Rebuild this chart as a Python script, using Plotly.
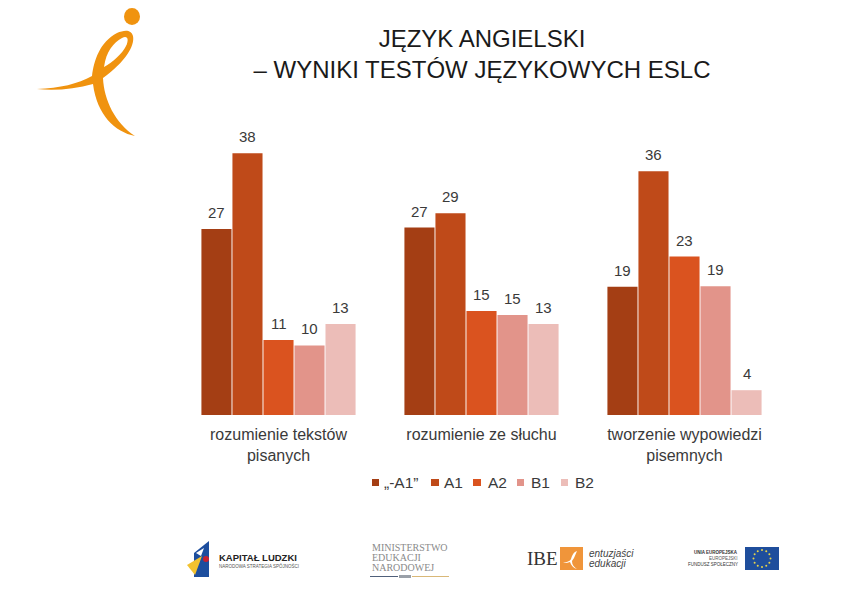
import math
import plotly.graph_objects as go

categories = ["rozumienie tekstów<br>pisanych", "rozumienie ze słuchu", "tworzenie wypowiedzi<br>pisemnych"]
series_names = ["„-A1”", "A1", "A2", "B1", "B2"]
series_colors = ["#A43E14", "#BF4A19", "#DA531F", "#E2948A", "#ECBDB8"]
values_a0 = [27.0, 27.2, 18.6]
values_a1 = [38.0, 29.3, 35.4]
values_a2 = [10.9, 15.1, 23.0]
values_b1 = [10.1, 14.5, 18.7]
values_b2 = [13.2, 13.2, 3.6]
labels_a0 = [27, 27, 19]
labels_a1 = [38, 29, 36]
labels_a2 = [11, 15, 23]
labels_b1 = [10, 15, 19]
labels_b2 = [13, 13, 4]

all_values = [values_a0, values_a1, values_a2, values_b1, values_b2]
all_labels = [labels_a0, labels_a1, labels_a2, labels_b1, labels_b2]

# The page has an 8px body margin, so the figure is drawn 8px in from the corner.
OFF = 8
W, H = 842 - OFF, 595 - OFF
L, R, T, B = 177, 786, 105, 415
FONT = "Liberation Sans"
TXT = "#3a3a3a"


def px(x):
    return (x - L) / (R - L)


def py(y):
    return (B - y) / (B - T)


def path(points):
    """SVG path written in page pixels, converted to paper coordinates."""
    out = []
    for tok in points.split():
        if "," in tok:
            a, b = tok.split(",")
            out.append(f"{px(float(a)):.5f},{py(float(b)):.5f}")
        else:
            out.append(tok)
    return " ".join(out)


shapes = []
annotations = []


def fill(d, color):
    shapes.append(dict(type="path", xref="paper", yref="paper", path=path(d),
                       fillcolor=color, line=dict(width=0), layer="above"))


def ellipse(cx, cy, rx, ry, color):
    shapes.append(dict(type="circle", xref="paper", yref="paper",
                       x0=px(cx - rx), x1=px(cx + rx), y0=py(cy + ry), y1=py(cy - ry),
                       fillcolor=color, line=dict(width=0), layer="above"))


def text(x, y, s, size, color="#333333", family=FONT, anchor="left"):
    annotations.append(dict(xref="paper", yref="paper", x=px(x), y=py(y), text=s,
                            showarrow=False, xanchor=anchor, yanchor="middle",
                            font=dict(size=size, color=color, family=family)))


# top-left emblem
ORANGE = "#F0930F"
ellipse(132, 16.5, 8, 8.5, ORANGE)
fill("M 37,89 C 60,88 78,84 92,76 C 94,60 100,42 117,33 C 124,30 131,29 133,36 "
     "C 135,46 125,62 103,78 C 104,100 115,123 135,136 C 115,132 97,115 93,84 C 75,89 55,91 37,89 Z", ORANGE)
fill("M 104,67 C 106,52 113,43 122,38 C 128,35 129,40 126,46 C 122,54 113,62 104,67 Z", "#FFFFFF")

# legend drawn by hand: the native one cannot be this tight
legend_boxes = [(372, 379), (431, 439), (473, 481), (517, 524), (561, 568)]
legend_text_x = [383, 443, 487, 530, 574]
for (x0, x1), tx, name, color in zip(legend_boxes, legend_text_x, series_names, series_colors):
    fill(f"M {x0},479 L {x1},479 L {x1},486 L {x0},486 Z", color)
    text(tx - 1, 483, name, 15.5, TXT)

# footer: Kapitał Ludzki
fill("M 194,553 L 209,541 L 209,577 L 194,577 Z", "#1D4E9E")
fill("M 187,565 L 202,556 L 195,575 Z", "#F2C230")
ellipse(206, 559, 3, 3, "#C8202F")
fill("M 196,553 L 204,548 L 201,556 Z", "#FFFFFF")
text(217, 557, "<b>KAPITAŁ LUDZKI</b>", 9.5, "#222222")
text(217, 565, "NARODOWA STRATEGIA SPÓJNOŚCI", 4.5, "#555555")

# footer: Ministerstwo
for yy, s in zip([547, 557, 567], ["MINISTERSTWO", "EDUKACJI", "NARODOWEJ"]):
    text(370, yy, s, 10, "#8a8a8a", "Liberation Serif")
fill("M 370,576 L 398,576 L 398,577 L 370,577 Z", "#50607A")
fill("M 412,576 L 449,576 L 449,577 L 412,577 Z", "#D9B878")
fill("M 399,575 L 411,575 L 411,578 L 399,578 Z", "#9AA0A8")

# footer: IBE
text(525, 558, "IBE", 19, "#333333", "Liberation Serif")
fill("M 560,547 L 583,547 L 583,570 L 560,570 Z", "#F0953A")
fill("M 563,563 C 568,562 570,561 571,559 C 572,555 574,552 577,551 L 574,558 L 572,561 "
     "C 572,565 574,567 577,569 C 573,568 571,565 570,562 C 568,563 565,563 563,563 Z", "#FFFFFF")
text(587, 553, "<i>entuzjaści</i>", 10, "#444444")
text(587, 563, "<i>edukacji</i>", 10, "#444444")

# footer: EU
text(740, 552, "<b>UNIA EUROPEJSKA</b>", 4.5, "#333333", anchor="right")
text(740, 558, "EUROPEJSKI", 4.5, "#555555", anchor="right")
text(740, 564, "FUNDUSZ SPOŁECZNY", 4.5, "#333333", anchor="right")
fill("M 745,547 L 779,547 L 779,570 L 745,570 Z", "#1F4E9C")
for i in range(12):
    a = math.pi * i / 6
    ellipse(762 + 8.5 * math.cos(a), 558.5 + 8.5 * math.sin(a), 1, 1, "#E8D44A")

fig = go.Figure()
for s, (name, color, vals, labs) in enumerate(zip(series_names, series_colors, all_values, all_labels)):
    fig.add_trace(go.Bar(
        name=name, x=categories, y=vals, cliponaxis=False, showlegend=False,
        marker=dict(color=color, line=dict(width=0)),
    ))
    # value labels sit higher above the bars than textposition="outside" allows
    for c, v, lab in zip(categories, vals, labs):
        annotations.append(dict(xref="x", yref="y", x=c, y=v, text=str(lab), showarrow=False,
                                xanchor="center", yanchor="middle", xshift=(s - 2) * 31.1, yshift=16.5,
                                font=dict(size=15, color=TXT, family=FONT)))

fig.update_layout(
    width=W, height=H,
    autosize=False,
    paper_bgcolor="white", plot_bgcolor="white",
    margin=dict(l=L - OFF, r=842 - R, t=T - OFF, b=595 - B, pad=0),
    barmode="group", bargap=0.236, bargroupgap=0.03,
    showlegend=False,
    title=dict(text="JĘZYK ANGIELSKI<br>– WYNIKI TESTÓW JĘZYKOWYCH ESLC",
               x=(482 - OFF) / W, xanchor="center", y=1 - 38.5 / H, yanchor="middle",
               font=dict(size=24, color="#1a1a1a", family=FONT)),
    xaxis=dict(showline=False, ticks="", showgrid=False, zeroline=False, ticklabelstandoff=8,
               tickfont=dict(size=16, color=TXT, family=FONT), automargin=False),
    yaxis=dict(range=[0, 45], visible=False, showgrid=False, zeroline=False),
    shapes=shapes, annotations=annotations,
)
fig.write_html("out.html")
